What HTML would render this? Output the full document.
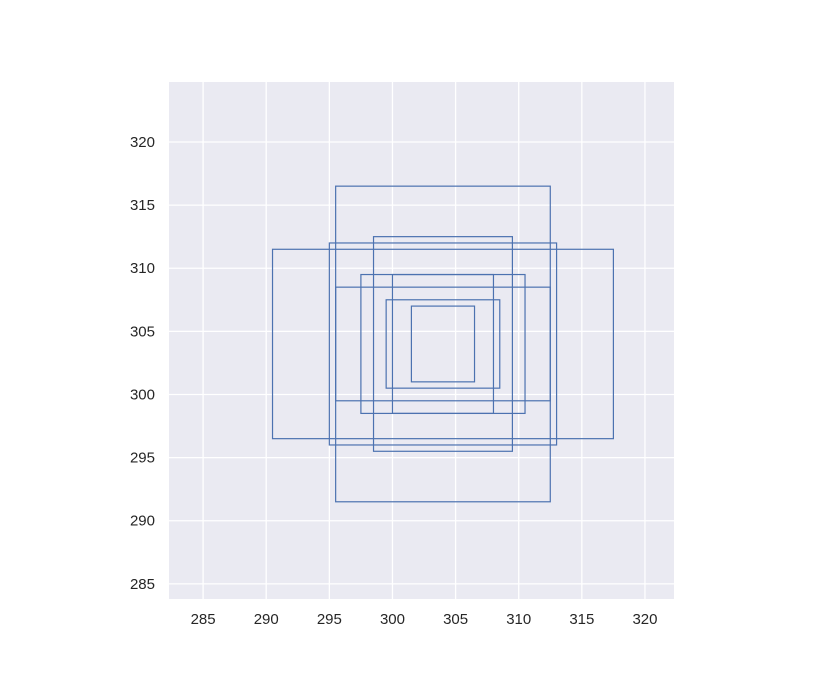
<!DOCTYPE html>
<html><head><meta charset="utf-8"><style>
body{margin:0;background:#fff;}
svg text{font-family:"Liberation Sans","DejaVu Sans",sans-serif;font-size:15px;fill:#262626;}
</style></head><body>
<svg id="chart" width="823" height="674" xmlns="http://www.w3.org/2000/svg">
<rect x="169" y="82" width="505" height="517" fill="#eaeaf2"/>
<g id="grid"></g><g id="rects"></g><g id="labels"></g>
</svg>
<script>
const xTicks=[285,290,295,300,305,310,315,320];
const yTicks=[285,290,295,300,305,310,315,320];
const rectX0=[295.5,290.5,295,298.5,297.5,300,295.5,299.5,301.5];
const rectX1=[312.5,317.5,313,309.5,310.5,308,312.5,308.5,306.5];
const rectY0=[291.5,296.5,296,295.5,298.5,298.5,299.5,300.5,301];
const rectY1=[316.5,311.5,312,312.5,309.5,309.5,308.5,307.5,307];
const L=169,R=674,T=82,B=599,xmin=282.3,xmax=322.3,ymin=283.8,ymax=324.75;
const sx=v=>L+(v-xmin)/(xmax-xmin)*(R-L);
const sy=v=>B-(v-ymin)/(ymax-ymin)*(B-T);
const NS="http://www.w3.org/2000/svg";
const g=document.getElementById('grid'),r=document.getElementById('rects'),lb=document.getElementById('labels');
function mk(tag,attrs,parent){const e=document.createElementNS(NS,tag);for(const k in attrs)e.setAttribute(k,attrs[k]);parent.appendChild(e);return e;}
xTicks.forEach(v=>{
 const l=mk('line',{x1:sx(v),x2:sx(v),y1:T,y2:B,stroke:'#fff','stroke-width':1.3},g);
 
 
 const t=mk('text',{x:sx(v),y:B+25,'text-anchor':'middle'},lb);t.textContent=v;
 
 
});
yTicks.forEach(v=>{
 const l=mk('line',{x1:L,x2:R,y1:sy(v),y2:sy(v),stroke:'#fff','stroke-width':1.3},g);
 
 
 const t=mk('text',{x:L-14,y:sy(v)+5,'text-anchor':'end'},lb);t.textContent=v;
 
 
});
rectX0.forEach((x0,i)=>{
 const x1=rectX1[i],y0=rectY0[i],y1=rectY1[i];
 const e=mk('rect',{x:sx(x0),y:sy(y1),width:sx(x1)-sx(x0),height:sy(y0)-sy(y1),fill:'none',stroke:'#4c72b0','stroke-width':1.2},r);
 
 
});
</script>
</body></html>
